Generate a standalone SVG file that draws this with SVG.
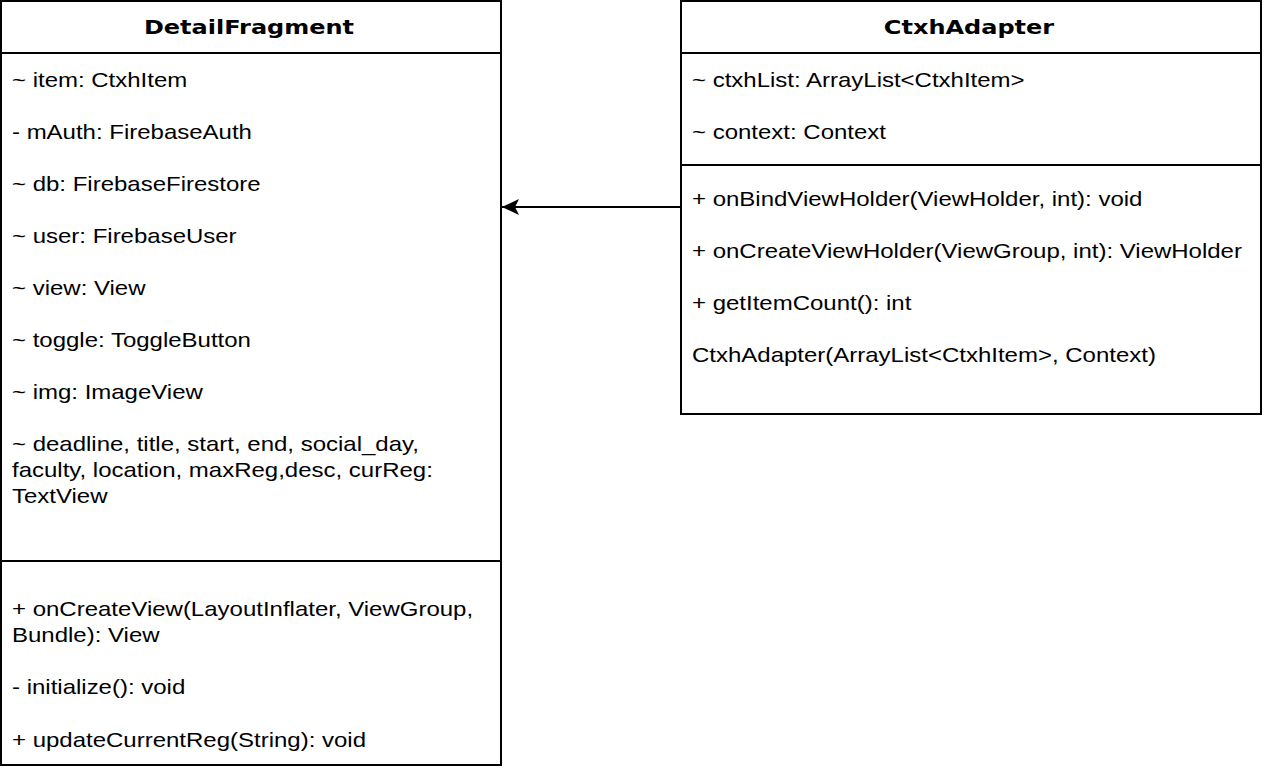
<svg xmlns="http://www.w3.org/2000/svg" width="1264" height="772" viewBox="0 0 1264 772">
<style>
.box{fill:#fff;stroke:#000;stroke-width:2}
.div{stroke:#000;stroke-width:2}
.t{font-family:"DejaVu Sans",Verdana,sans-serif;font-weight:bold;font-size:20px;fill:#000;text-anchor:middle}
.m{font-family:"Liberation Sans",Arial,sans-serif;font-size:20px;fill:#000}
.c{stroke:#000;stroke-width:2;fill:none}
</style>
<defs>
<marker id="arr" markerWidth="18" markerHeight="18" refX="17" refY="9" orient="auto" markerUnits="userSpaceOnUse" viewBox="0 0 18 18">
<path d="M0,1 L17,9 L0,17 L4,9 Z" fill="#000"/>
</marker>
</defs>
<rect width="1264" height="772" fill="#fff"/>
<g id="DetailFragment">
<rect class="box" x="1" y="1" width="500" height="764"/>
<line class="div" x1="1" y1="53" x2="501" y2="53"/>
<line class="div" x1="1" y1="561" x2="501" y2="561"/>
<g transform="scale(1.2,1)">
<text class="t" x="207.5" y="34">DetailFragment</text>
<text class="m" x="10" y="87">~ item: CtxhItem</text>
<text class="m" x="10" y="139">- mAuth: FirebaseAuth</text>
<text class="m" x="10" y="191">~ db: FirebaseFirestore</text>
<text class="m" x="10" y="243">~ user: FirebaseUser</text>
<text class="m" x="10" y="295">~ view: View</text>
<text class="m" x="10" y="347">~ toggle: ToggleButton</text>
<text class="m" x="10" y="399">~ img: ImageView</text>
<text class="m" x="10" y="451">~ deadline, title, start, end, social_day,</text>
<text class="m" x="10" y="477">faculty, location, maxReg,desc, curReg:</text>
<text class="m" x="10" y="503">TextView</text>
<text class="m" x="10" y="616">+ onCreateView(LayoutInflater, ViewGroup,</text>
<text class="m" x="10" y="642">Bundle): View</text>
<text class="m" x="10" y="694">- initialize(): void</text>
<text class="m" x="10" y="747">+ updateCurrentReg(String): void</text>
</g>
</g>
<g id="CtxhAdapter">
<rect class="box" x="681" y="1" width="580" height="413"/>
<line class="div" x1="681" y1="53" x2="1261" y2="53"/>
<line class="div" x1="681" y1="165" x2="1261" y2="165"/>
<g transform="scale(1.2,1)">
<text class="t" x="807.5" y="34">CtxhAdapter</text>
<text class="m" x="576.67" y="87">~ ctxhList: ArrayList&lt;CtxhItem&gt;</text>
<text class="m" x="576.67" y="139">~ context: Context</text>
<text class="m" x="576.67" y="206">+ onBindViewHolder(ViewHolder, int): void</text>
<text class="m" x="576.67" y="258">+ onCreateViewHolder(ViewGroup, int): ViewHolder</text>
<text class="m" x="576.67" y="310">+ getItemCount(): int</text>
<text class="m" x="576.67" y="362">CtxhAdapter(ArrayList&lt;CtxhItem&gt;, Context)</text>
</g>
</g>
<g id="connectors">
<path class="c" d="M680,207 L502,207" marker-end="url(#arr)"/>
</g>
</svg>
